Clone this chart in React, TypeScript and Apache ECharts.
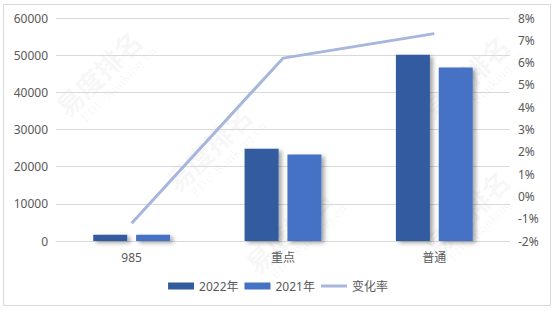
import React, { useEffect, useRef } from "react";
import * as echarts from "echarts";

const categories = ["985", "重点", "普通"];
const values2022 = [1650, 24800, 50100];
const values2021 = [1670, 23300, 46700];
const changeRate = [-1.2, 6.2, 7.3];
const seriesNames = ["2022年", "2021年", "变化率"];

const FONT = "'Noto Sans', 'Noto Sans CJK SC', sans-serif";

const watermarkSpots = [
  [100, 75],
  [210, 150],
  [290, 232],
  [468, 80],
  [468, 215],
];

function watermark(x: number, y: number) {
  return {
    type: "group",
    x,
    y,
    rotation: Math.PI / 4,
    silent: true,
    z: -10,
    children: [
      {
        type: "text",
        x: -54,
        y: -16,
        style: {
          text: "易度排名",
          fontSize: 27,
          fontWeight: "bold",
          fontFamily: "'Noto Sans CJK SC'",
          fill: "rgba(0,0,0,0.05)",
        },
      },
      {
        type: "text",
        x: -44,
        y: 14,
        style: {
          text: "EDU Ranking.cn",
          fontSize: 12,
          fontFamily: "'DejaVu Serif', serif",
          fill: "rgba(0,0,0,0.05)",
        },
      },
    ],
  };
}

export default function App() {
  const ref = useRef<HTMLDivElement>(null);
  useEffect(() => {
    document.body.style.margin = "0";
    if (!ref.current) return;
    const chart = echarts.init(ref.current, undefined, { renderer: "svg" });
    const shadow = {
      shadowColor: "rgba(0,0,0,0.35)",
      shadowBlur: 4,
      shadowOffsetX: 3,
      shadowOffsetY: 2,
    };
    chart.setOption({
      animation: false,
      backgroundColor: "#fff",
      textStyle: { fontFamily: FONT },
      graphic: [
        {
          type: "rect",
          shape: { x: 3.5, y: 4.5, width: 547, height: 301 },
          style: { fill: "none", stroke: "#d9d9d9", lineWidth: 1 },
          silent: true,
          z: -20,
        },
        ...watermarkSpots.map(([x, y]) => watermark(x, y)),
      ],
      grid: { left: 56, right: 46, top: 18, bottom: 70, containLabel: false },
      legend: {
        bottom: 14,
        left: "center",
        itemWidth: 26,
        itemHeight: 7,
        itemGap: 6,
        textStyle: { color: "#595959", fontSize: 12, fontFamily: FONT },
        data: [
          { name: seriesNames[0], icon: "rect" },
          { name: seriesNames[1], icon: "rect" },
          { name: seriesNames[2], icon: "path://M0,0 L26,0 L26,3 L0,3 Z" },
        ],
      },
      xAxis: {
        type: "category",
        data: categories,
        axisLine: { lineStyle: { color: "#d9d9d9" } },
        axisTick: { show: false },
        axisLabel: { color: "#595959", fontSize: 12, margin: 10 },
      },
      yAxis: [
        {
          type: "value",
          min: 0,
          max: 60000,
          interval: 10000,
          axisLine: { show: false },
          axisTick: { show: false },
          axisLabel: {
            color: "#595959",
            fontSize: 12,
            margin: 8,
            formatter: (v: number) => String(v),
          },
          splitLine: { lineStyle: { color: "#d9d9d9" } },
        },
        {
          type: "value",
          min: -2,
          max: 8,
          interval: 1,
          axisLine: { show: false },
          axisTick: { show: false },
          axisLabel: {
            color: "#595959",
            fontSize: 12,
            margin: 8,
            formatter: (v: number) => `${v}%`,
          },
          splitLine: { show: false },
        },
      ],
      series: [
        {
          name: seriesNames[0],
          type: "bar",
          data: values2022,
          barWidth: 34,
          barGap: "26%",
          itemStyle: { color: "#335C9F", ...shadow },
        },
        {
          name: seriesNames[1],
          type: "bar",
          data: values2021,
          barWidth: 34,
          itemStyle: { color: "#4472C4", ...shadow },
        },
        {
          name: seriesNames[2],
          type: "line",
          yAxisIndex: 1,
          data: changeRate,
          symbol: "none",
          showSymbol: false,
          lineStyle: { color: "#A7B6DD", width: 3 },
          itemStyle: { color: "#A7B6DD" },
        },
      ],
    });
    return () => chart.dispose();
  }, []);
  return <div ref={ref} style={{ width: 556, height: 311 }} />;
}
